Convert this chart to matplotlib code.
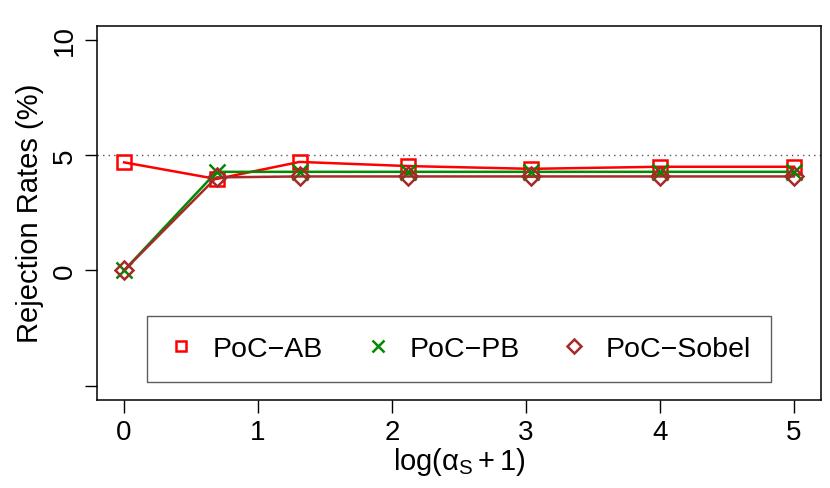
import matplotlib.pyplot as plt

plt.rcParams['font.family'] = ['Liberation Sans', 'DejaVu Sans']
plt.rcParams['mathtext.fontset'] = 'custom'
plt.rcParams['mathtext.rm'] = 'Liberation Sans'
plt.rcParams['mathtext.it'] = 'Liberation Sans'

# log(alpha_S + 1) grid
x = [0, 0.69, 1.31, 2.12, 3.04, 4.0, 5.0]
ab = [4.68, 3.96, 4.70, 4.52, 4.40, 4.49, 4.49]
pb = [0.0, 4.27, 4.27, 4.27, 4.27, 4.27, 4.27]
sobel = [0.0, 4.03, 4.07, 4.07, 4.07, 4.07, 4.07]

fig = plt.figure(figsize=(8.3, 4.89), dpi=100)
ax = fig.add_axes([97.3/830, 1-400.7/489, (820.7-97.3)/830, (400.7-26.7)/489])

ax.axhline(5, color='#555555', ls=(0, (1, 3)), lw=1)

ax.plot(x, ab, color='red', lw=1.8, marker='s', ms=10.5, mfc='none', mew=1.8, label='PoC\u2212AB')
ax.plot(x, pb, color='#008B00', lw=1.8, marker='x', ms=11, mew=1.8, label='PoC\u2212PB')
ax.plot(x, sobel, color='#A52A2A', lw=1.8, marker='D', ms=9, mfc='none', mew=1.8, label='PoC\u2212Sobel')

ax.set_xlim(-0.2, 5.2)
ax.set_ylim(-5.6, 10.6)
ax.set_xticks([0, 1, 2, 3, 4, 5])
ax.set_yticks([-5, 0, 5, 10])
ax.set_yticklabels(['', '0', '5', '10'], rotation=90, va='center')
ax.tick_params(labelsize=20, length=9, width=1, pad=5)
for s in ax.spines.values():
    s.set_linewidth(1.1)

ax.set_xlabel(r'log($\alpha_{\mathrm{S}}+1$)', fontsize=21, labelpad=0)
ax.set_ylabel('Rejection Rates (%)', fontsize=21, labelpad=6)

leg = ax.legend(loc='lower left', bbox_to_anchor=(0.069, 0.048, 0.862, 0.188),
                mode='expand', ncol=3, fontsize=20.5, frameon=True, fancybox=False,
                handlelength=1.0, handletextpad=0.6, borderaxespad=0, numpoints=1,
                markerscale=0.75, borderpad=0.7)
leg.get_frame().set_edgecolor('#333333')
leg.get_frame().set_linewidth(1.0)
for h in leg.get_lines():
    h.set_linestyle('none')

fig.savefig('out.png', dpi=100)
